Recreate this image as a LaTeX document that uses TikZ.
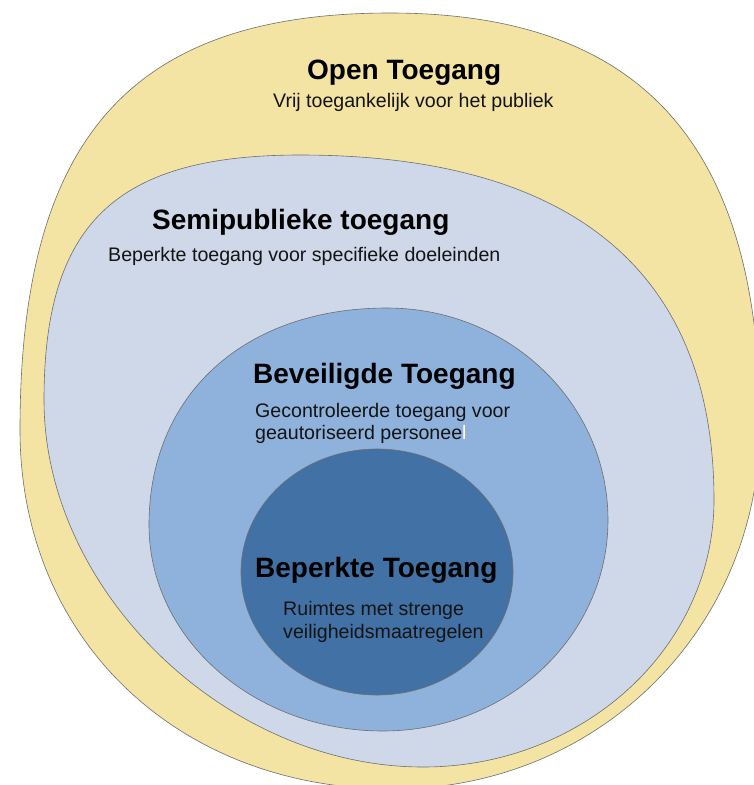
\documentclass[tikz,border=0pt]{standalone}
\usepackage{fontspec}
\setmainfont{Liberation Sans}
\definecolor{cyel}{RGB}{244,228,164}
\definecolor{csemi}{RGB}{206,216,233}
\definecolor{cbev}{RGB}{142,178,220}
\definecolor{cdark}{RGB}{65,113,165}
\definecolor{cline}{RGB}{110,110,110}
\definecolor{ctext}{RGB}{20,20,20}
\begin{document}
\begin{tikzpicture}[x=1pt,y=-1pt,
  zone/.style={draw=cline, line width=0.6pt},
  ttl/.style={font=\fontsize{28}{30}\selectfont\bfseries, anchor=base west, inner sep=0pt, text=black},
  dsc/.style={font=\fontsize{19.6}{22}\selectfont, anchor=base west, inner sep=0pt, text=ctext}]
\useasboundingbox (0,0) rectangle (754,785);
\fill[white] (0,0) rectangle (754,785);
\clip (0,0) rectangle (754,785);
% Open (yellow)
\path[zone, fill=cyel] (390,13) .. controls (641.6,13) and (760,144.8) .. (760,425)
  .. controls (760,628.8) and (598.5,789) .. (393,789)
  .. controls (176.7,789) and (20,638.2) .. (20,430)
  .. controls (20,138.1) and (131,13) .. (390,13) -- cycle;
% Semi
\path[zone, fill=csemi] (300,155) .. controls (573.2,155) and (714,272.3) .. (714,500)
  .. controls (714,647.4) and (583.6,767) .. (423,767)
  .. controls (225.9,767) and (44,590.8) .. (44,400)
  .. controls (44,223.6) and (115.7,155) .. (300,155) -- cycle;
% Beveiligd
\path[zone, fill=cbev] (387,308) .. controls (509,308) and (608,403) .. (608,520)
  .. controls (608,636.5) and (507.2,731) .. (383,731)
  .. controls (253.8,731) and (149,638.7) .. (149,525)
  .. controls (149,394.8) and (244.2,308) .. (387,308) -- cycle;
% Beperkt
\path[zone, fill=cdark] (377,572) ellipse [x radius=136pt, y radius=123pt];
% Texts
\node[ttl] (openT) at (307,79) {Open Toegang};
\node[dsc] (openD) at (273,107) {Vrij toegankelijk voor het publiek};
\node[ttl] (semiT) at (152,229) {Semipublieke toegang};
\node[dsc] (semiD) at (108,261) {Beperkte toegang voor specifieke doeleinden};
\node[ttl] (bevT) at (253,383) {Beveiligde Toegang};
\node[dsc] (bevD1) at (255,417) {Gecontroleerde toegang voor};
\node[dsc] (bevD2) at (255,439) {geautoriseerd persone\textcolor{ctext}{e}\textcolor{white}{l}};
\node[ttl] (darkT) at (255,577) {Beperkte Toegang};
\node[dsc] (darkD1) at (283,615) {Ruimtes met strenge};
\node[dsc] (darkD2) at (283,638) {veiligheidsmaatregelen};
\end{tikzpicture}
\end{document}
